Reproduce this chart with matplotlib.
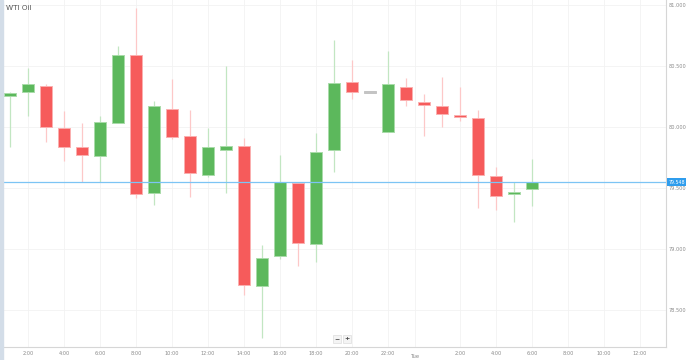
import matplotlib.pyplot as plt
import numpy as np

# hourly candles, WTI Oil (hour 1 = 1:00 on day one)
hours = list(range(1, 31))
opens = [80.260, 80.289, 80.339, 79.989, 79.834, 79.762, 80.033, 80.588, 79.457, 80.150,
         79.926, 79.609, 79.814, 79.844, 78.694, 78.945, 79.543, 79.039, 79.809, 80.366,
         80.289, 79.961, 80.325, 80.207, 80.170, 80.098, 80.071, 79.598, 79.448, 79.489]
closes = [80.272, 80.350, 80.002, 79.836, 79.770, 80.041, 80.588, 79.451, 80.172, 79.918,
          79.620, 79.834, 79.847, 78.705, 78.929, 79.547, 79.047, 79.798, 80.358, 80.287,
          80.289, 80.350, 80.219, 80.180, 80.109, 80.082, 79.607, 79.437, 79.465, 79.548]
highs = [80.289, 80.481, 80.350, 80.131, 80.035, 80.090, 80.664, 80.975, 80.213, 80.391,
         80.137, 79.989, 80.500, 79.912, 79.033, 79.770, 79.550, 79.948, 80.713, 80.549,
         80.289, 80.623, 80.404, 80.268, 80.407, 80.328, 80.139, 79.670, 79.550, 79.738]
lows = [79.836, 80.093, 79.880, 79.724, 79.550, 79.550, 80.033, 79.418, 79.361, 79.902,
        79.424, 79.590, 79.457, 78.623, 78.273, 78.918, 78.863, 78.891, 79.629, 80.230,
        80.289, 79.961, 80.175, 79.929, 80.002, 80.052, 79.339, 79.320, 79.221, 79.355]
last_price = 79.548

x_ticks = [2, 4, 6, 8, 10, 12, 14, 16, 18, 20, 22, 26, 28, 30, 32, 34, 36]
x_labels = ["2:00", "4:00", "6:00", "8:00", "10:00", "12:00", "14:00", "16:00", "18:00",
            "20:00", "22:00", "2:00", "4:00", "6:00", "8:00", "10:00", "12:00"]
y_ticks = [78.5, 79.0, 79.5, 80.0, 80.5, 81.0]

GREEN = "#5cb85c"
RED = "#f65b5b"
GRAY = "#c4c4c4"
BLUE = "#7cc4f4"

fig = plt.figure(figsize=(6.99, 3.6), dpi=100)
ax = fig.add_axes([3 / 699, 13 / 360, 663 / 699, 347 / 360])

ax.set_xlim(0.61, 37.44)
ax.set_ylim(78.197, 81.041)

# light grid
for t in x_ticks + [23.5]:
    ax.axvline(t, color="#f2f2f2", lw=0.6, zorder=0)
for t in y_ticks:
    ax.axhline(t, color="#f2f2f2", lw=0.6, zorder=0)

opens_a = np.array(opens)
closes_a = np.array(closes)
for h, o, c, hi, lo in zip(hours, opens_a, closes_a, highs, lows):
    if c > o:
        col, edge, wick = GREEN, "#a9dba9", "#c2e6c2"
    elif c < o:
        col, edge, wick = RED, "#fbb0b0", "#fdc8c8"
    else:
        col, edge, wick = GRAY, GRAY, GRAY
    ax.vlines(h, lo, hi, color=wick, lw=0.9, zorder=1)
    body = max(abs(c - o), 0.018)
    bottom = min(o, c) if abs(c - o) >= 0.018 else (o + c) / 2 - 0.009
    ax.bar(h, body, bottom=bottom, width=0.66, color=col, edgecolor=edge,
           linewidth=0.7, zorder=2)

# current price line
ax.axhline(last_price, color=BLUE, lw=0.9, zorder=3)

for s in ["top", "left"]:
    ax.spines[s].set_visible(False)
ax.spines["right"].set_color("#d6d6d6")
ax.spines["bottom"].set_color("#d6d6d6")
ax.spines["right"].set_linewidth(0.8)
ax.spines["bottom"].set_linewidth(0.8)

ax.yaxis.tick_right()
ax.set_yticks(y_ticks)
ax.set_yticklabels(["%.3f" % v for v in y_ticks])
ax.set_xticks(x_ticks)
ax.set_xticklabels(x_labels)
ax.tick_params(axis="both", length=0, labelsize=3.6, labelcolor="#8a8a8a", pad=3)
ax.tick_params(axis="y", pad=2)

# midnight label placed lower
ax.text(23.5, -0.021, "Tue", transform=ax.get_xaxis_transform(), ha="center",
        va="top", fontsize=3.8, color="#8a8a8a", clip_on=False)

# price tag on right axis
ax.text(1.0035, last_price, "%.3f" % last_price, transform=ax.get_yaxis_transform(),
        ha="left", va="center", fontsize=3.4, color="white", clip_on=False,
        bbox=dict(boxstyle="square,pad=0.25", fc="#2f9ded", ec="none"))

# left edge bar
fig.patches.append(plt.Rectangle((0, 0), 2.5 / 699, 1, transform=fig.transFigure,
                                 color="#d3dde8", zorder=0))

# title
ax.text(0.004, 0.985, "WTI Oil", transform=ax.transAxes, ha="left", va="top",
        fontsize=5.2, color="#555555")

# zoom buttons
for xx, lab in [(337, "\u2212"), (347, "+")]:
    fig.text(xx / 699, 1 - 339 / 360, lab, ha="center", va="center", fontsize=4.5,
             color="#444444", fontweight="bold",
             bbox=dict(boxstyle="square,pad=0.25", fc="#f4f4f4", ec="#dddddd", lw=0.5))

fig.savefig("out.png", dpi=100)
